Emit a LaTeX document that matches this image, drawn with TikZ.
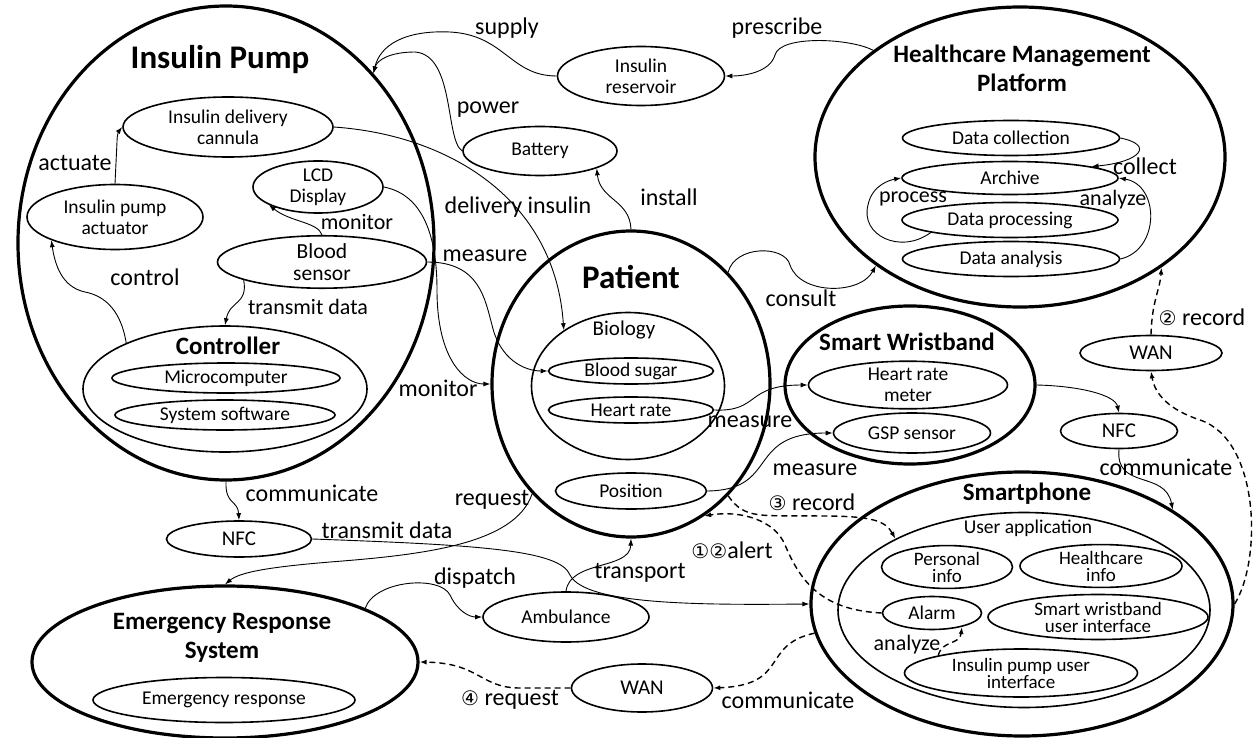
\documentclass[tikz,border=0pt]{standalone}
\usepackage{fontspec}
\setmainfont{Carlito}
\newfontfamily\dvfont{DejaVu Sans}
\usetikzlibrary{shapes.geometric,arrows.meta}
\begin{document}
\begin{tikzpicture}[x=1pt,y=-1pt,
 outer/.style={ellipse,draw,line width=3.2pt,inner sep=0},
 innerbox/.style={ellipse,draw,line width=1.6pt,inner sep=0,align=center,font=\fontsize{19.5}{21}\selectfont},
 tightbox/.style={innerbox,font=\fontsize{19}{17}\selectfont},
 ttl/.style={font=\bfseries\fontsize{25}{29}\selectfont,align=center,inner sep=0},
 bigttl/.style={font=\bfseries\fontsize{33}{36}\selectfont,inner sep=0},
 lbl/.style={font=\fontsize{24}{26}\selectfont,inner sep=0},
 slbl/.style={font=\fontsize{22}{24}\selectfont,inner sep=0},
 conn/.style={line width=0.9pt,-{Latex[length=7pt,width=5pt]}},
 dconn/.style={conn,line width=1.4pt,dash pattern=on 6pt off 4pt}]
\useasboundingbox (0,0) rectangle (1256,738);

% ---------- Insulin Pump ----------
\node[outer,minimum width=416pt,minimum height=474pt] (pump) at (226,243) {};
\node[bigttl] (pumpt) at (220,60) {Insulin Pump};
\node[innerbox,minimum width=210pt,minimum height=60pt] (can) at (228,127) {Insulin delivery\\cannula};
\node[innerbox,minimum width=176pt,minimum height=65pt] (act) at (115,217) {Insulin pump\\actuator};
\node[innerbox,minimum width=130pt,minimum height=45pt] (lcd) at (318,187) {LCD\\Display};
\node[innerbox,minimum width=209pt,minimum height=50pt,font=\fontsize{21.5}{22}\selectfont] (bs) at (322,262) {Blood\\sensor};
\node[innerbox,minimum width=284pt,minimum height=126pt] (ctrl) at (225,389) {};
\node[ttl] (ctrlt) at (228,346) {Controller};
\node[innerbox,minimum width=228pt,minimum height=30pt] (mc) at (226,378) {Microcomputer};
\node[innerbox,minimum width=220pt,minimum height=30pt] (ss) at (225,415) {System software};

% ---------- top middle ----------
\node[innerbox,minimum width=167pt,minimum height=59pt] (res) at (641,76) {Insulin\\reservoir};
\node[innerbox,minimum width=154pt,minimum height=49pt] (bat) at (540,151) {Battery};

% ---------- Healthcare Management Platform ----------
\node[outer,minimum width=410pt,minimum height=300pt] (hmp) at (1020,157) {};
\node[ttl] (hmpt) at (1022,68) {Healthcare Management\\Platform};
\node[innerbox,minimum width=217pt,minimum height=35pt] (dc) at (1011,138) {Data collection};
\node[innerbox,minimum width=216pt,minimum height=33pt] (arch) at (1010,178) {Archive};
\node[innerbox,minimum width=216pt,minimum height=35pt] (dp) at (1010,220) {Data processing};
\node[innerbox,minimum width=217pt,minimum height=35pt] (da) at (1011,259) {Data analysis};

% ---------- Patient ----------
\node[outer,minimum width=278pt,minimum height=306pt] (pat) at (631,384) {};
\node[bigttl] (patt) at (631,277) {Patient};
\node[innerbox,minimum width=193pt,minimum height=147pt] (bio) at (628,386) {};
\node[font=\fontsize{21}{22}\selectfont,inner sep=0] (biot) at (624,330) {Biology};
\node[innerbox,minimum width=165pt,minimum height=26pt] (bsug) at (631,371) {Blood sugar};
\node[innerbox,minimum width=165pt,minimum height=26pt] (hr) at (631,410) {Heart rate};
\node[innerbox,minimum width=151pt,minimum height=36pt] (pos) at (631,491) {Position};

% ---------- Smart Wristband ----------
\node[outer,minimum width=250pt,minimum height=158pt] (sw) at (910,385) {};
\node[ttl] (swt) at (907,342) {Smart Wristband};
\node[innerbox,minimum width=199pt,minimum height=40pt] (hrm) at (908,385) {Heart rate\\meter};
\node[innerbox,minimum width=157pt,minimum height=40pt] (gsp) at (912,433) {GSP sensor};

% ---------- right side network ----------
\node[innerbox,minimum width=142pt,minimum height=35pt,font=\fontsize{21}{22}\selectfont] (wanr) at (1151,353) {WAN};
\node[innerbox,minimum width=117pt,minimum height=35pt,font=\fontsize{21}{22}\selectfont] (nfcr) at (1119,431) {NFC};

% ---------- Smartphone ----------
\node[outer,minimum width=422pt,minimum height=264pt] (sp) at (1022,604) {};
\node[ttl] (spt) at (1027,494) {Smartphone};
\node[innerbox,minimum width=372pt,minimum height=195pt] (ua) at (1024,610) {};
\node[font=\fontsize{19.5}{21}\selectfont,inner sep=0] (uat) at (1028,528) {User application};
\node[tightbox,minimum width=131pt,minimum height=38pt] (pi) at (947,567) {Personal\\info};
\node[tightbox,minimum width=162pt,minimum height=41pt] (hi) at (1101,566) {Healthcare\\info};
\node[innerbox,minimum width=99pt,minimum height=33pt] (alarm) at (932,613) {Alarm};
\node[tightbox,minimum width=220pt,minimum height=45pt] (swui) at (1098,617) {Smart wristband\\user interface};
\node[tightbox,minimum width=233pt,minimum height=48pt] (ipui) at (1021,673) {Insulin pump user\\interface};

% ---------- bottom left ----------
\node[innerbox,minimum width=145pt,minimum height=36pt,font=\fontsize{21}{22}\selectfont] (nfcl) at (239,539) {NFC};
\node[outer,minimum width=386pt,minimum height=152pt] (ers) at (225,662) {};
\node[ttl] (erst) at (222,638) {Emergency Response\\System};
\node[innerbox,minimum width=262pt,minimum height=45pt] (er) at (224,700) {Emergency response};
\node[innerbox,minimum width=166pt,minimum height=50pt] (amb) at (566,617) {Ambulance};
\node[innerbox,minimum width=141pt,minimum height=48pt,font=\fontsize{21}{22}\selectfont] (wanb) at (642,688) {WAN};

% ---------- connectors ----------
\draw[conn] (res.west) .. controls (510,76) and (505,35) .. (450,32) .. controls (405,30) and (380,45) .. (pump.49.5);
\draw[conn] (bat.west) .. controls (445,140) and (455,55) .. (415,52) .. controls (390,52) and (377,60) .. (pump.49.5);
\draw[conn] (hmp.144) .. controls (850,38) and (780,35) .. (775,55) .. controls (770,72) and (745,76) .. (res.east);
\draw[conn] (act.north) -- (117,142) .. controls (117,134) and (119,131) .. (can.west);
\draw[conn] (ctrl.155) .. controls (120,305) and (100,295) .. (85,292) .. controls (62,287) and (55,265) .. (act.200);
\draw[conn] (bs.north) .. controls (318,222) and (290,222) .. (lcd.200);
\draw[conn] (bs.193) .. controls (248,305) and (230,300) .. (ctrl.north);
\draw[conn] (can.east) .. controls (450,135) and (555,200) .. (bio.139.5);
\draw[conn] (lcd.east) .. controls (425,195) and (437,240) .. (437,290) .. controls (437,360) and (465,384) .. (pat.west);
\draw[conn] (bs.east) .. controls (480,262) and (485,300) .. (492,325) .. controls (500,360) and (525,371) .. (bsug.west);
\draw[conn] (pat.north) .. controls (630,200) and (600,200) .. (bat.-17);
\draw[conn] (pat.49) .. controls (735,245) and (785,245) .. (790,265) .. controls (800,295) and (860,295) .. (hmp.217.6);
\draw[conn] (dc.east) .. controls (1155,145) and (1140,162) .. (arch.8);
\draw[conn] (dp.189) .. controls (900,255) and (860,235) .. (868,205) .. controls (872,185) and (890,180) .. (arch.west);
\draw[conn] (da.east) .. controls (1160,250) and (1160,185) .. (arch.east);
\draw[conn] (hr.east) .. controls (760,412) and (745,385) .. (hrm.west);
\draw[conn] (pos.east) .. controls (780,490) and (745,433) .. (gsp.west);
\draw[conn] (sw.east) .. controls (1080,386) and (1115,395) .. (nfcr.north);
\draw[conn] (nfcr.south) .. controls (1115,490) and (1165,470) .. (sp.32.4);
\draw[dconn] (wanr.north) .. controls (1152,300) and (1160,290) .. (hmp.322);
\draw[dconn] (sp.east) .. controls (1262,560) and (1260,440) .. (1200,420) .. controls (1170,410) and (1155,395) .. (wanr.south);
\draw[dconn] (pat.311) .. controls (745,520) and (760,515) .. (820,516) .. controls (870,516) and (885,520) .. (ua.151);
\draw[dconn] (alarm.west) .. controls (820,610) and (800,580) .. (785,545) .. controls (775,520) and (740,510) .. (pat.299);
\draw[dconn] (ipui.168) .. controls (942,640) and (960,645) .. (alarm.335);
\draw[conn] (nfcl.east) .. controls (480,545) and (560,550) .. (570,575) .. controls (585,605) and (700,605) .. (sp.west);
\draw[conn] (pat.228) .. controls (515,545) and (420,555) .. (330,562) .. controls (270,567) and (240,572) .. (ers.north);
\draw[conn] (pump.south) .. controls (225,505) and (238,500) .. (nfcl.north);
\draw[conn] (ers.21.4) .. controls (375,580) and (440,575) .. (450,595) .. controls (458,612) and (470,617) .. (amb.west);
\draw[conn] (amb.north) .. controls (570,560) and (630,570) .. (pat.south);
\draw[dconn] (sp.188) .. controls (760,645) and (790,685) .. (wanb.east);
\draw[dconn] (wanb.west) -- (520,688) .. controls (480,688) and (480,663) .. (ers.east);

% ---------- labels ----------
\node[lbl] (l1) at (507,28) {supply};
\node[lbl] (l2) at (777,28) {prescribe};
\node[lbl] (l3) at (488,110) {power};
\node[lbl] (l4) at (669,197) {install};
\node[lbl] (l5) at (518,207) {delivery insulin};
\node[lbl] (l6) at (485,256) {measure};
\node[lbl] (l7) at (75,163) {actuate};
\node[slbl] (l8) at (357,222) {monitor};
\node[lbl] (l9) at (145,277) {control};
\node[slbl] (l10) at (308,307) {transmit data};
\node[lbl] (l11) at (801,298) {consult};
\node[lbl] (l12) at (438,388) {monitor};
\node[lbl] (l13) at (1145,166) {collect};
\node[lbl,font=\fontsize{22}{24}\selectfont] (l14) at (913,199) {process};
\node[lbl,font=\fontsize{22}{24}\selectfont] (l15) at (1113,200) {analyze};
\node[lbl] (l16) at (750,422) {measure};
\node[lbl] (l17) at (815,470) {measure};
\node[lbl] (l18) at (812,502) {{\dvfont\fontsize{20}{22}\selectfont ③} record};
\node[lbl] (l19) at (732,550) {{\dvfont\fontsize{20}{22}\selectfont ①②}alert};
\node[lbl] (l20) at (1202,317) {{\dvfont\fontsize{20}{22}\selectfont ②} record};
\node[lbl] (l21) at (1166,467) {communicate};
\node[lbl] (l22) at (312,493) {communicate};
\node[lbl] (l23) at (387,530) {transmit data};
\node[lbl] (l24) at (492,500) {request};
\node[lbl] (l25) at (475,578) {dispatch};
\node[lbl] (l26) at (640,573) {transport};
\node[lbl] (l27) at (510,700) {{\dvfont\fontsize{20}{22}\selectfont ④} request};
\node[lbl] (l28) at (788,700) {communicate};
\node[lbl,font=\fontsize{22}{24}\selectfont] (l29) at (907,645) {analyze};
\end{tikzpicture}
\end{document}
